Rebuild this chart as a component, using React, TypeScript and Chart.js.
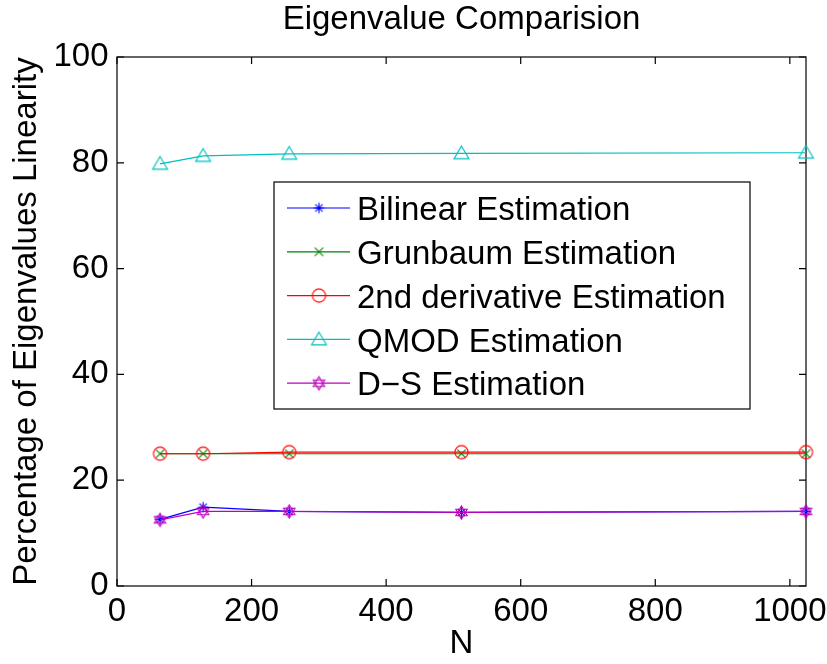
import React, { useEffect, useRef } from "react";
import { Chart, registerables } from "chart.js";

Chart.register(...registerables);

// Image sizes N along the x axis
const sizes = [64, 128, 256, 512, 1024];

// Percentage of eigenvalues found linear, one list per estimator
const bilinear = [12.6, 14.9, 14.1, 13.9, 14.1];
const grunbaum = [25.0, 25.0, 25.0, 25.0, 25.0];
const secondDerivative = [25.0, 25.0, 25.3, 25.3, 25.3];
const qmod = [79.8, 81.3, 81.7, 81.8, 81.9];
const dsEstimate = [12.5, 14.1, 14.1, 13.9, 14.1];

const seriesNames = [
  "Bilinear Estimation",
  "Grunbaum Estimation",
  "2nd derivative Estimation",
  "QMOD Estimation",
  "D\u2212S Estimation",
];

const xTicks = [0, 200, 400, 600, 800, 1000];
const yTicks = [0, 20, 40, 60, 80, 100];

const titleText = "Eigenvalue Comparision";
const xTitle = "N";
const yTitle = "Percentage of Eigenvalues Linearity";

const FONT = '"Liberation Sans", Arial, Helvetica, sans-serif';

type MarkerKind = "asterisk" | "x" | "circle" | "triangle" | "hexagram";

// Small canvas sprites used as point styles (and in the legend)
function makeMarker(kind: MarkerKind, color: string): HTMLCanvasElement {
  const s = 21;
  const c = document.createElement("canvas");
  c.width = s;
  c.height = s;
  const g = c.getContext("2d")!;
  const m = s / 2;
  g.strokeStyle = color;
  g.lineWidth = 1.1;
  g.beginPath();
  if (kind === "asterisk") {
    const r = 5.2;
    for (let k = 0; k < 4; k++) {
      const a = (k * Math.PI) / 4;
      const dx = Math.cos(a) * r;
      const dy = Math.sin(a) * r;
      g.moveTo(m - dx, m - dy);
      g.lineTo(m + dx, m + dy);
    }
  } else if (kind === "x") {
    const r = 4.2;
    g.moveTo(m - r, m - r);
    g.lineTo(m + r, m + r);
    g.moveTo(m - r, m + r);
    g.lineTo(m + r, m - r);
  } else if (kind === "circle") {
    g.arc(m, m, 6.6, 0, Math.PI * 2);
  } else if (kind === "triangle") {
    g.moveTo(m, m - 7.3);
    g.lineTo(m + 7.5, m + 5.4);
    g.lineTo(m - 7.5, m + 5.4);
    g.closePath();
  } else if (kind === "hexagram") {
    const r = 6.6;
    for (let t = 0; t < 2; t++) {
      const off = t === 0 ? -Math.PI / 2 : Math.PI / 2;
      for (let k = 0; k < 3; k++) {
        const a = off + (k * 2 * Math.PI) / 3;
        const px = m + Math.cos(a) * r;
        const py = m + Math.sin(a) * r;
        if (k === 0) g.moveTo(px, py);
        else g.lineTo(px, py);
      }
      g.closePath();
    }
  }
  g.stroke();
  return c;
}

const colors = ["#0000ff", "#008000", "#ff0000", "#00bfbf", "#bf00bf"];
const markerKinds: MarkerKind[] = ["asterisk", "x", "circle", "triangle", "hexagram"];
const seriesValues = [bilinear, grunbaum, secondDerivative, qmod, dsEstimate];

export default function App() {
  const canvasRef = useRef<HTMLCanvasElement | null>(null);

  useEffect(() => {
    document.body.style.margin = "0";
    const canvas = canvasRef.current;
    if (!canvas) return;

    const markers = markerKinds.map((k, i) => makeMarker(k, colors[i]));

    // Box around the axes with inward-facing ticks on all four sides
    const axesBox = {
      id: "axesBox",
      beforeDatasetsDraw(chart: any) {
        const { ctx, chartArea } = chart;
        const { left, right, top, bottom } = chartArea;
        const xs = chart.scales.x;
        const ys = chart.scales.y;
        const tl = 7;
        ctx.save();
        ctx.strokeStyle = "#000";
        ctx.lineWidth = 1.2;
        ctx.strokeRect(left, top, right - left, bottom - top);
        ctx.beginPath();
        xTicks.forEach((v) => {
          const px = xs.getPixelForValue(v);
          ctx.moveTo(px, bottom);
          ctx.lineTo(px, bottom - tl);
          ctx.moveTo(px, top);
          ctx.lineTo(px, top + tl);
        });
        yTicks.forEach((v) => {
          const py = ys.getPixelForValue(v);
          ctx.moveTo(left, py);
          ctx.lineTo(left + tl, py);
          ctx.moveTo(right, py);
          ctx.lineTo(right - tl, py);
        });
        ctx.stroke();
        ctx.restore();
      },
    };

    // Boxed legend inside the axes
    const boxedLegend = {
      id: "boxedLegend",
      afterDraw(chart: any) {
        const { ctx, chartArea } = chart;
        const bx = chartArea.left + 157;
        const by = chartArea.top + 125;
        const bw = 476;
        const bh = 227;
        ctx.save();
        ctx.fillStyle = "#fff";
        ctx.fillRect(bx, by, bw, bh);
        ctx.strokeStyle = "#000";
        ctx.lineWidth = 1.2;
        ctx.strokeRect(bx, by, bw, bh);
        ctx.font = `33px ${FONT}`;
        ctx.textBaseline = "alphabetic";
        ctx.textAlign = "left";
        seriesNames.forEach((name, i) => {
          const ry = by + 26 + i * 43.8;
          ctx.strokeStyle = colors[i];
          ctx.lineWidth = 1.2;
          ctx.beginPath();
          ctx.moveTo(bx + 13, ry);
          ctx.lineTo(bx + 76, ry);
          ctx.stroke();
          const mk = markers[i];
          ctx.drawImage(mk, bx + 45 - mk.width / 2, ry - mk.height / 2);
          ctx.fillStyle = "#000";
          ctx.fillText(name, bx + 83, ry + 12.2);
        });
        ctx.restore();
      },
    };

    const datasets = seriesNames.map((name, i) => ({
      label: name,
      data: sizes.map((n, j) => ({ x: n, y: seriesValues[i][j] })),
      borderColor: colors[i],
      backgroundColor: colors[i],
      borderWidth: 1.2,
      pointStyle: markers[i],
      pointRadius: 6,
      tension: 0,
      clip: false as any,
      order: seriesNames.length - 1 - i,
    }));

    const chart = new Chart(canvas, {
      type: "line",
      data: { datasets },
      options: {
        animation: false,
        responsive: false,
        events: [],
        layout: { padding: { top: 0, left: 0, right: 21, bottom: 0 } },
        plugins: {
          legend: { display: false },
          tooltip: { enabled: false },
          title: {
            display: true,
            text: titleText,
            color: "#000",
            fullSize: false,
            font: { family: FONT, size: 33, weight: "normal" },
            padding: { top: 0, bottom: 17.4 },
          },
        },
        scales: {
          x: {
            type: "linear",
            min: 0,
            max: 1024,
            grid: { display: false, drawTicks: false },
            border: { display: false },
            afterBuildTicks: (scale: any) => {
              scale.ticks = xTicks.map((value) => ({ value }));
            },
            afterFit: (scale: any) => {
              scale.height = 78;
              scale.paddingLeft = 0;
              scale.paddingRight = 0;
            },
            ticks: {
              color: "#000",
              font: { family: FONT, size: 33 },
              padding: 6,
              autoSkip: false,
              maxRotation: 0,
              callback: (v: any) => String(v),
            },
            title: {
              display: true,
              text: xTitle,
              color: "#000",
              font: { family: FONT, size: 33 },
              padding: { top: 0, bottom: 0 },
            },
          },
          y: {
            type: "linear",
            min: 0,
            max: 100,
            grid: { display: false, drawTicks: false },
            border: { display: false },
            afterBuildTicks: (scale: any) => {
              scale.ticks = yTicks.map((value) => ({ value }));
            },
            afterFit: (scale: any) => {
              scale.width = 117;
              scale.paddingTop = 0;
              scale.paddingBottom = 0;
            },
            ticks: {
              color: "#000",
              font: { family: FONT, size: 33 },
              padding: 8.5,
              autoSkip: false,
              callback: (v: any) => String(v),
            },
            title: {
              display: true,
              text: yTitle,
              color: "#000",
              font: { family: FONT, size: 33 },
              padding: { top: 7, bottom: 0 },
            },
          },
        },
      },
      plugins: [axesBox, boxedLegend],
    });

    return () => chart.destroy();
  }, []);

  return <canvas ref={canvasRef} width={827} height={664} style={{ display: "block" }} />;
}
